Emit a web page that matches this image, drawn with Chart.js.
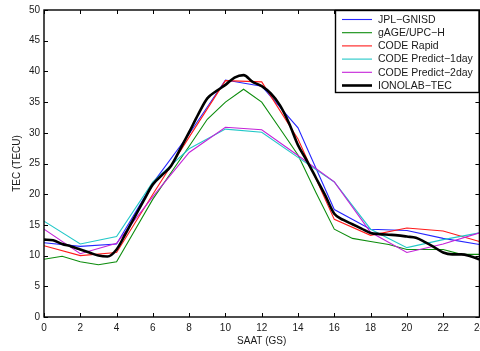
<!DOCTYPE html>
<html>
<head>
<meta charset="utf-8">
<script src="https://cdn.jsdelivr.net/npm/chart.js@4.4.1/dist/chart.umd.min.js"></script>
<style>
    html, body { margin: 0; padding: 0; background: #fff; overflow: hidden; }
    #wrap { width: 480px; height: 351px; overflow: hidden; }
</style>
</head>
<body>
<div id="wrap"><canvas id="tec" width="490" height="351"></canvas></div>
<script>
// saat ekseni (2 saatlik, 1 saatlik, 30 dakikalik)
const HOURS_2H = [0, 2, 4, 6, 8, 10, 12, 14, 16, 18, 20, 22, 24];
const HOURS_1H = [0, 1, 2, 3, 4, 5, 6, 7, 8, 9, 10, 11, 12, 13, 14, 15, 16, 17, 18, 19, 20, 21, 22, 23, 24];
const HOURS_30M = [0, 0.5, 1, 1.5, 2, 2.5, 3, 3.5, 4, 4.5, 5, 5.5, 6, 6.5, 7, 7.5, 8, 8.5, 9, 9.5, 10, 10.5, 11, 11.5,
    12, 12.5, 13, 13.5, 14, 14.5, 15, 15.5, 16, 16.5, 17, 17.5, 18, 18.5, 19, 19.5, 20, 20.5, 21, 21.5, 22, 22.5, 23, 23.5, 24];

const JPL_GNISD = [12.1, 11.5, 11.9, 21.8, 29.8, 38.6, 37.6, 30.8, 17.5, 14.3, 14.1, 12.8, 11.8];
const GAGE_UPC = [9.4, 9.9, 9.0, 8.5, 9.0, 14.1, 19.2, 23.5, 27.8, 32.2, 35.0, 37.1, 35.0,
    30.7, 26.4, 20.2, 14.3, 12.8, 12.3, 11.8, 11.0, 11.0, 11.0, 10.2, 10.2];
const CODE_RAPID = [11.6, 10.0, 10.5, 20.0, 29.3, 38.5, 38.3, 29.0, 15.9, 13.3, 14.5, 14.0, 12.3];
const CODE_P1 = [15.6, 11.9, 13.1, 22.0, 27.4, 30.6, 30.1, 26.0, 22.0, 14.3, 11.3, 12.6, 13.7];
const CODE_P2 = [14.3, 10.3, 12.0, 19.6, 26.8, 30.9, 30.5, 26.3, 22.0, 13.8, 10.5, 11.9, 13.7];
const IONOLAB = [12.6, 12.5, 11.9, 11.5, 11.0, 10.5, 10.0, 9.85, 11.0, 13.6, 16.3, 19.0, 21.6, 23.1, 24.6, 27.3,
    30.1, 33.0, 35.6, 36.8, 37.8, 39.0, 39.4, 38.3, 37.6, 36.4, 34.5, 31.6, 28.0, 25.4, 22.6, 19.8,
    16.8, 15.8, 15.1, 14.4, 13.7, 13.5, 13.4, 13.3, 13.1, 12.9, 12.2, 11.4, 10.5, 10.2, 10.2, 9.9, 9.4];

const X_TICKS = [0, 2, 4, 6, 8, 10, 12, 14, 16, 18, 20, 22, 24];
const Y_TICKS = [0, 5, 10, 15, 20, 25, 30, 35, 40, 45, 50];

const FONT = "'Liberation Sans', Arial, Helvetica, sans-serif";
const TICK_LEN = 4;

const toPoints = (xs, ys) => xs.map((x, i) => ({ x, y: ys[i] }));

const series = [
    { label: 'JPL\u2212GNISD', xs: HOURS_2H, ys: JPL_GNISD, color: '#2626ff', width: 1.1 },
    { label: 'gAGE/UPC\u2212H', xs: HOURS_1H, ys: GAGE_UPC, color: '#0c8c0c', width: 1.1 },
    { label: 'CODE Rapid', xs: HOURS_2H, ys: CODE_RAPID, color: '#ff1a1a', width: 1.1 },
    { label: 'CODE Predict\u22121day', xs: HOURS_2H, ys: CODE_P1, color: '#22c8c8', width: 1.1 },
    { label: 'CODE Predict\u22122day', xs: HOURS_2H, ys: CODE_P2, color: '#c422d8', width: 1.1 },
    { label: 'IONOLAB\u2212TEC', xs: HOURS_30M, ys: IONOLAB, color: '#000000', width: 2.6, smooth: true },
];

// MATLAB tarzi kutu + iceri bakan tick'ler
const axesFrame = {
    id: 'axesFrame',
    afterDraw(chart) {
        const { ctx, chartArea: a, scales: { x, y } } = chart;
        ctx.save();
        ctx.strokeStyle = '#000';
        ctx.lineWidth = 1;
        ctx.beginPath();
        x.ticks.forEach((t) => {
            const px = Math.round(x.getPixelForValue(t.value)) + 0.5;
            ctx.moveTo(px, a.bottom);
            ctx.lineTo(px, a.bottom - TICK_LEN);
            ctx.moveTo(px, a.top);
            ctx.lineTo(px, a.top + TICK_LEN);
        });
        y.ticks.forEach((t) => {
            const py = Math.round(y.getPixelForValue(t.value)) + 0.5;
            ctx.moveTo(a.left, py);
            ctx.lineTo(a.left + TICK_LEN, py);
            ctx.moveTo(a.right, py);
            ctx.lineTo(a.right - TICK_LEN, py);
        });
        ctx.stroke();
        ctx.lineWidth = 1.4;
        ctx.strokeRect(a.left, a.top, a.right - a.left, a.bottom - a.top);
        ctx.restore();
    },
};

const boxLegend = {
    id: 'boxLegend',
    afterDraw(chart) {
        const { ctx } = chart;
        const box = { x: 335.5, y: 10.5, w: 143.5, h: 82 };
        ctx.save();
        ctx.fillStyle = '#fff';
        ctx.fillRect(box.x, box.y, box.w, box.h);
        ctx.strokeStyle = '#000';
        ctx.lineWidth = 1.4;
        ctx.strokeRect(box.x, box.y, box.w, box.h);
        ctx.font = `10.5px ${FONT}`;
        ctx.textBaseline = 'middle';
        ctx.textAlign = 'left';
        series.forEach((s, i) => {
            const rowY = 19.5 + i * 13.2;
            ctx.strokeStyle = s.color;
            ctx.lineWidth = s.width;
            ctx.beginPath();
            ctx.moveTo(342, rowY);
            ctx.lineTo(372, rowY);
            ctx.stroke();
            ctx.fillStyle = '#1a1a1a';
            ctx.fillText(s.label, 378, rowY + 0.5);
        });
        ctx.restore();
    },
};

new Chart(document.getElementById('tec'), {
    type: 'line',
    data: {
        datasets: series.map((s, i) => ({
            label: s.label,
            data: toPoints(s.xs, s.ys),
            borderColor: s.color,
            borderWidth: s.width,
            pointRadius: 0,
            tension: 0,
            cubicInterpolationMode: s.smooth ? 'monotone' : 'default',
            fill: false,
            order: series.length - 1 - i,
        })),
    },
    options: {
        responsive: false,
        devicePixelRatio: 1,
        animation: false,
        layout: { padding: { top: 6, right: 9, left: 0, bottom: 0 } },
        plugins: {
            legend: { display: false },
            tooltip: { enabled: false },
        },
        scales: {
            x: {
                type: 'linear',
                min: 0,
                max: 24,
                afterBuildTicks: (scale) => { scale.ticks = X_TICKS.map((v) => ({ value: v })); },
                afterFit: (scale) => { scale.height = 34; },
                grid: { display: false, drawTicks: false },
                border: { display: false },
                ticks: { color: '#1a1a1a', padding: 5, maxRotation: 0, autoSkip: false, font: { family: FONT, size: 10 } },
                title: { display: true, text: 'SAAT (GS)', color: '#1a1a1a', padding: { top: 0, bottom: 4 }, font: { family: FONT, size: 10 } },
            },
            y: {
                type: 'linear',
                min: 0,
                max: 50,
                afterBuildTicks: (scale) => { scale.ticks = Y_TICKS.map((v) => ({ value: v })); },
                afterFit: (scale) => { scale.width = 44; },
                grid: { display: false, drawTicks: false },
                border: { display: false },
                ticks: { color: '#1a1a1a', padding: 4, autoSkip: false, font: { family: FONT, size: 10 } },
                title: { display: true, text: 'TEC (TECU)', color: '#1a1a1a', padding: { top: 11, bottom: 0 }, font: { family: FONT, size: 10 } },
            },
        },
    },
    plugins: [axesFrame, boxLegend],
});
</script>
</body>
</html>
